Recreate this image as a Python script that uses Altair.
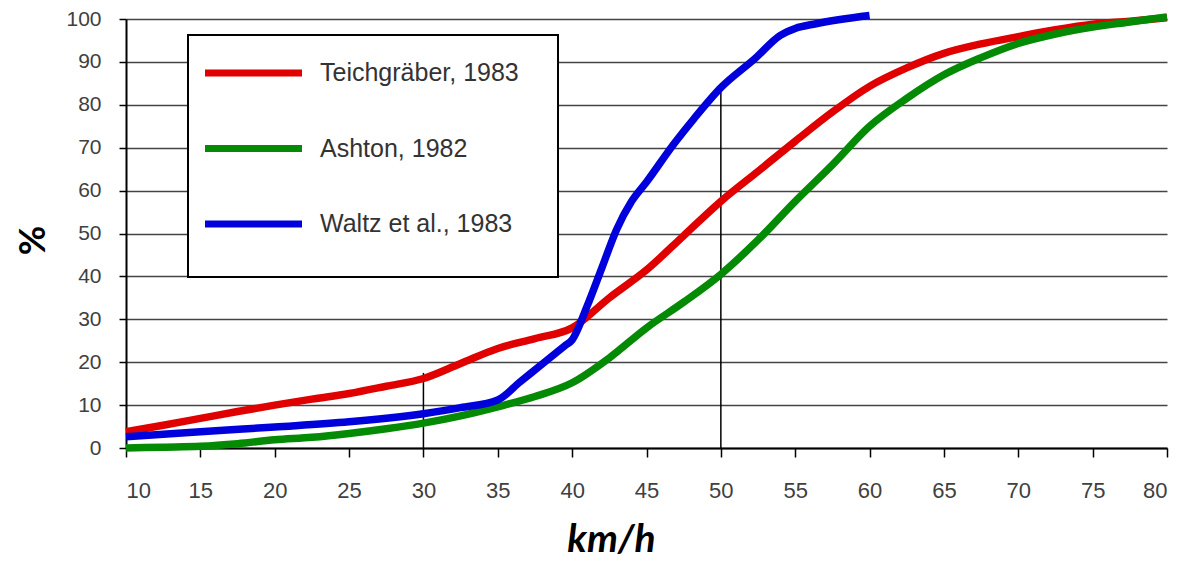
import altair as alt
import pandas as pd

series_names = ["Teichgräber, 1983", "Ashton, 1982", "Waltz et al., 1983"]
series_colors = ["#e00000", "#058a05", "#0000dd"]

red_x = [10, 12.5, 15, 17.5, 20, 22.5, 25, 27.5, 30, 32.5, 35, 37.5, 40, 42.5, 45, 47.5, 50, 52.5, 55, 57.5, 60, 62.5, 65, 67.5, 70, 72.5, 75, 77.5, 80]
red_y = [3.8, 5.3, 6.9, 8.5, 10.0, 11.4, 12.7, 14.4, 16.2, 19.7, 23.2, 25.5, 28.0, 35.0, 41.5, 49.5, 57.5, 64.5, 71.5, 78.3, 84.3, 88.6, 92.0, 94.2, 95.9, 97.5, 98.8, 99.5, 100.3]

green_x = [10, 12.5, 15, 17.5, 20, 22.5, 25, 27.5, 30, 32.5, 35, 37.5, 40, 42.5, 45, 47.5, 50, 52.5, 55, 57.5, 60, 62.5, 65, 67.5, 70, 72.5, 75, 77.5, 80]
green_y = [0.0, 0.2, 0.4, 1.0, 1.9, 2.5, 3.4, 4.5, 5.8, 7.5, 9.6, 12.0, 15.2, 21.0, 28.0, 34.0, 40.5, 48.5, 57.5, 66.0, 75.0, 81.5, 87.0, 91.0, 94.3, 96.5, 98.1, 99.3, 100.5]

blue_x = [10, 15, 20, 25, 30, 32.5, 35, 36.5, 38, 39.5, 40, 41, 42, 43, 44, 45, 46.8, 48.2, 50, 52.3, 54, 55, 56.4, 60]
blue_y = [2.6, 3.8, 4.9, 6.1, 8.0, 9.4, 11.2, 15.4, 19.6, 23.8, 25.2, 33.0, 42.0, 51.0, 57.5, 62.0, 70.7, 76.8, 84.0, 90.8, 96.2, 97.8, 98.9, 100.8]

ref_x = [30, 50]
ref_top = [17.5, 83.0]

x_ticks = list(range(10, 81, 5))
y_ticks = list(range(0, 101, 10))

rows = []
for name, xs, ys in [(series_names[0], red_x, red_y),
                     (series_names[1], green_x, green_y),
                     (series_names[2], blue_x, blue_y)]:
    for xv, yv in zip(xs, ys):
        rows.append({"series": name, "speed": xv, "pct": yv})
df = pd.DataFrame(rows)

ref_df = pd.DataFrame({"speed": ref_x, "top": ref_top, "bottom": [0, 0]})
legend_df = pd.DataFrame({"series": series_names, "idx": [0, 1, 2]})

color_scale = alt.Scale(domain=series_names, range=series_colors)

x_enc = alt.X("speed:Q", scale=alt.Scale(domain=[10, 80], nice=False, zero=False),
              axis=alt.Axis(values=x_ticks, tickSize=9, tickWidth=1.5, tickColor="black",
                            labelPadding=23, labelFontSize=22, labelColor="#404040",
                            labelFont="Liberation Sans", grid=False,
                            domainColor="black", domainWidth=2,
                            title="km/h", titleFont="Lato", titleFontSize=39,
                            titleFontStyle="italic", titleFontWeight="bold",
                            titleColor="black", titleX=485, titleY=103,
                            titleBaseline="alphabetic", titleAlign="center"))
y_enc = alt.Y("pct:Q", scale=alt.Scale(domain=[0, 100], nice=False),
              axis=alt.Axis(values=y_ticks, tickSize=7, tickWidth=1.5, tickColor="black",
                            labelPadding=18, labelFontSize=21, labelColor="#404040",
                            labelFont="Liberation Sans",
                            grid=True, gridColor="#444444", gridWidth=1.5,
                            domainColor="black", domainWidth=2,
                            title="%", titleFont="Lato", titleFontSize=36,
                            titleFontWeight="bold", titleColor="black",
                            titleAngle=270, titleX=-93, titleY=221,
                            titleAlign="center", titleBaseline="middle"))

refs = alt.Chart(ref_df).mark_rule(color="black", strokeWidth=1.5).encode(
    x=x_enc, y=alt.Y("bottom:Q", scale=alt.Scale(domain=[0, 100], nice=False)), y2="top:Q")

line_layers = []
for name in series_names:
    line_layers.append(
        alt.Chart(df).transform_filter(alt.datum.series == name)
        .mark_line(strokeWidth=7.5, interpolate="monotone")
        .encode(x=x_enc, y=y_enc,
                color=alt.Color("series:N", scale=color_scale, legend=None))
    )

box = alt.Chart(legend_df).mark_rect(fill="white", stroke="black", strokeWidth=2).encode(
    x=alt.value(62), x2=alt.value(432), y=alt.value(16), y2=alt.value(258))

leg_y = alt.Y("idx:Q", scale=alt.Scale(domain=[0, 2], range=[54, 205]), axis=None)
leg_lines = alt.Chart(legend_df).mark_rule(strokeWidth=7).encode(
    x=alt.value(79), x2=alt.value(176), y=leg_y,
    color=alt.Color("series:N", scale=color_scale, legend=None))
leg_text = alt.Chart(legend_df).mark_text(align="left", baseline="middle", fontSize=25,
                                          font="Liberation Sans", color="#333333").encode(
    x=alt.value(194), y=leg_y, text="series:N")

main = alt.layer(refs, *line_layers)
legend = alt.layer(box, leg_lines, leg_text)

chart = alt.layer(main, legend).resolve_scale(y="independent").properties(
    width=1041, height=429,
    autosize=alt.AutoSizeParams(type="none"),
    padding={"left": 118, "top": 11, "right": 5, "bottom": 115},
).configure_view(stroke=None)

chart.save("out.html", embed_options={"renderer": "svg", "actions": False})
